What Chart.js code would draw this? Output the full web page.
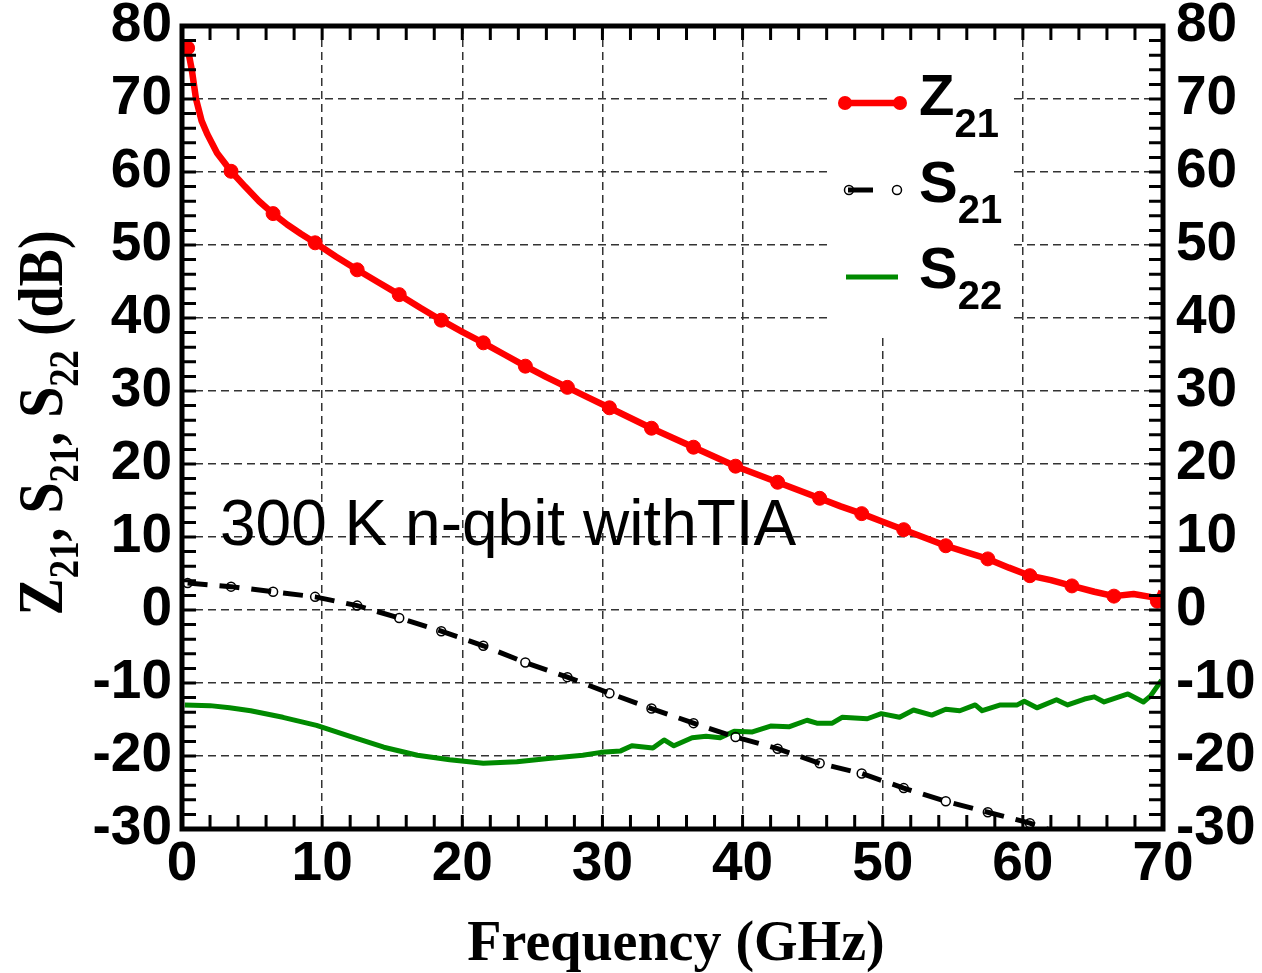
<!DOCTYPE html>
<html>
<head>
<meta charset="utf-8">
<script src="https://cdn.jsdelivr.net/npm/chart.js@4.4.0/dist/chart.umd.min.js"></script>
<style>
  html, body { margin: 0; padding: 0; background: #fff; }
  canvas { display: block; }
</style>
</head>
<body>
<canvas id="chart" width="1262" height="973"></canvas>
<script>
// axis ticks
const freqTicks = [0, 10, 20, 30, 40, 50, 60, 70];
const dbTicks = [-30, -20, -10, 0, 10, 20, 30, 40, 50, 60, 70, 80];

// Z21 (red, filled markers)
const z21Freq = [0.4, 0.7, 1.0, 1.4, 1.8, 2.5, 3.5, 4.5, 5.5, 6.5, 7.5, 8.5, 9.5, 11.0, 12.5, 14.0, 15.5, 17.0, 18.5, 20.0,
  21.5, 23.0, 24.5, 26.0, 27.5, 29.0, 30.5, 32.0, 33.5, 35.0, 36.5, 38.0, 39.5, 41.0, 42.5, 44.0, 45.5, 47.0, 48.5, 50.0,
  51.5, 53.0, 54.5, 56.0, 57.5, 59.0, 60.5, 62.0, 63.5, 65.1, 66.5, 67.9, 69.1, 69.6, 69.9];
const z21Db = [77.0, 74.0, 70.0, 67.0, 65.2, 62.6, 60.1, 58.0, 56.0, 54.3, 52.8, 51.5, 50.3, 48.4, 46.6, 44.9, 43.2, 41.4, 39.7, 38.1,
  36.6, 35.0, 33.4, 31.9, 30.5, 29.1, 27.7, 26.3, 24.9, 23.6, 22.3, 21.0, 19.7, 18.6, 17.5, 16.4, 15.3, 14.2, 13.2, 12.1,
  11.0, 9.9, 8.8, 7.9, 7.0, 5.8, 4.7, 4.1, 3.3, 2.5, 1.9, 2.2, 1.8, 1.2, 2.6];
const z21Marks = [0.4, 3.5, 6.5, 9.5, 12.5, 15.5, 18.5, 21.5, 24.5, 27.5, 30.5, 33.5, 36.5, 39.5, 42.5, 45.5, 48.5,
  51.5, 54.5, 57.5, 60.5, 63.5, 66.5, 69.6];

// S21 (black dashed, open markers)
const s21Freq = [0.4, 3.5, 6.5, 9.5, 12.5, 15.5, 18.5, 21.5, 24.5, 27.5, 30.5, 33.5, 36.5, 39.5, 42.5, 45.5, 48.5,
  51.5, 54.5, 57.5, 60.5, 62.5];
const s21Db = [3.7, 3.2, 2.5, 1.8, 0.6, -1.1, -2.9, -4.9, -7.2, -9.2, -11.4, -13.5, -15.5, -17.4, -19.0, -21.0, -22.4,
  -24.4, -26.2, -27.7, -29.2, -30.5];

// S22 (green)
const s22Freq = [0.2, 2.0, 3.4, 4.9, 7.2, 9.6, 12.0, 14.4, 16.8, 19.1, 21.5, 23.9, 26.3, 28.6, 29.9, 31.3, 32.1, 33.6,
  34.4, 35.1, 36.4, 37.4, 38.4, 39.4, 40.7, 42.0, 43.3, 44.6, 45.3, 46.4, 47.1, 48.9, 49.9, 51.2, 52.2, 53.5, 54.5,
  55.5, 56.6, 57.1, 58.4, 59.6, 60.1, 61.0, 62.4, 63.2, 64.4, 65.1, 65.8, 67.5, 68.6, 69.1, 69.9];
const s22Db = [-13.0, -13.1, -13.4, -13.8, -14.7, -15.8, -17.3, -18.8, -19.9, -20.5, -21.0, -20.8, -20.3, -19.9, -19.5,
  -19.3, -18.6, -18.9, -17.8, -18.6, -17.5, -17.3, -17.5, -16.6, -16.7, -15.9, -16.0, -15.1, -15.5, -15.5, -14.7,
  -14.9, -14.2, -14.7, -13.7, -14.4, -13.6, -13.8, -13.0, -13.8, -13.0, -13.0, -12.5, -13.4, -12.3, -13.0, -12.2,
  -11.9, -12.6, -11.5, -12.6, -11.8, -9.6];

const pts = (xs, ys) => xs.map((x, i) => ({ x, y: ys[i] }));

const RED = '#ff0000';
const BLACK = '#000000';
const GREEN = '#008a00';
const SANS = '"Liberation Sans", Arial, sans-serif';
const SERIF = '"Liberation Serif", "Times New Roman", serif';

// draws text pieces, some as subscripts
function drawSubText(ctx, parts, x, y, mainFont, subFont, subDrop) {
    let cx = x;
    for (const [txt, sub] of parts) {
        ctx.font = sub ? subFont : mainFont;
        ctx.fillText(txt, cx, sub ? y + subDrop : y);
        cx += ctx.measureText(txt).width;
    }
}

function measureSubText(ctx, parts, mainFont, subFont) {
    let w = 0;
    for (const [txt, sub] of parts) {
        ctx.font = sub ? subFont : mainFont;
        w += ctx.measureText(txt).width;
    }
    return w;
}

const framePlugin = {
    id: 'frame',
    beforeDatasetsDraw(chart) {
        // white legend backdrop hides the grid behind it
        const { ctx } = chart;
        ctx.save();
        ctx.fillStyle = '#fff';
        ctx.fillRect(829, 28, 180, 305);
        ctx.restore();
    },
    afterDatasetsDraw(chart) {
        const { ctx, chartArea: a, scales } = chart;
        const x = scales.x, y = scales.y;
        ctx.save();

        // inward ticks on all four sides
        ctx.strokeStyle = '#000';
        ctx.lineWidth = 3;
        ctx.beginPath();
        for (let f = 0; f <= 70; f += 2) {
            const px = x.getPixelForValue(f);
            ctx.moveTo(px, a.bottom); ctx.lineTo(px, a.bottom - 14);
            ctx.moveTo(px, a.top); ctx.lineTo(px, a.top + 14);
        }
        for (let v = -30; v <= 80; v += 2) {
            const py = y.getPixelForValue(v);
            ctx.moveTo(a.left, py); ctx.lineTo(a.left + 14, py);
            ctx.moveTo(a.right, py); ctx.lineTo(a.right - 14, py);
        }
        ctx.stroke();
        ctx.lineWidth = 5;
        ctx.strokeRect(a.left, a.top, a.right - a.left, a.bottom - a.top);

        // legend
        const ds = chart.data.datasets;
        ctx.lineWidth = 6.5;
        ctx.strokeStyle = ds[0].borderColor;
        ctx.beginPath(); ctx.moveTo(845, 103); ctx.lineTo(900, 103); ctx.stroke();
        ctx.fillStyle = ds[0].borderColor;
        for (const cx of [845, 900]) { ctx.beginPath(); ctx.arc(cx, 103, 7, 0, Math.PI * 2); ctx.fill(); }

        ctx.strokeStyle = ds[1].borderColor;
        ctx.lineWidth = 5;
        ctx.beginPath(); ctx.moveTo(848, 190); ctx.lineTo(873, 190); ctx.stroke();
        ctx.lineWidth = 1.5;
        for (const cx of [849, 897]) { ctx.beginPath(); ctx.arc(cx, 190, 4.5, 0, Math.PI * 2); ctx.stroke(); }

        ctx.strokeStyle = ds[2].borderColor;
        ctx.lineWidth = 5;
        ctx.beginPath(); ctx.moveTo(846, 277); ctx.lineTo(898, 277); ctx.stroke();

        ctx.fillStyle = '#000';
        ctx.textBaseline = 'alphabetic';
        ctx.textAlign = 'left';
        const lf = 'bold 58px ' + SANS, ls = 'bold 40px ' + SANS;
        drawSubText(ctx, [['Z', 0], ['21', 1]], 919, 115, lf, ls, 22);
        drawSubText(ctx, [['S', 0], ['21', 1]], 919, 202, lf, ls, 21);
        drawSubText(ctx, [['S', 0], ['22', 1]], 919, 288, lf, ls, 21);

        // annotation
        ctx.font = '64px ' + SANS;
        ctx.fillText('300 K n-qbit withTIA', 220, 545);

        ctx.restore();
    },
    afterDraw(chart) {
        const { ctx } = chart;
        ctx.save();
        ctx.fillStyle = '#000';
        ctx.textBaseline = 'alphabetic';

        // x title
        ctx.font = 'bold 56px ' + SERIF;
        ctx.textAlign = 'center';
        ctx.fillText('Frequency (GHz)', 676, 960);

        // y title, rotated, with subscripts
        ctx.textAlign = 'left';
        const mf = 'bold 64px ' + SERIF, sf = 'bold 42px ' + SERIF;
        const parts = [['Z', 0], ['21', 1], [', ', 0], ['S', 0], ['21', 1], [', ', 0], ['S', 0], ['22', 1], [' (dB)', 0]];
        const w = measureSubText(ctx, parts, mf, sf);
        ctx.translate(62, 423);
        ctx.rotate(-Math.PI / 2);
        ctx.scale(385 / w, 1);
        drawSubText(ctx, parts, -w / 2, 0, mf, sf, 16);
        ctx.restore();
    }
};

const tickFont = { family: SANS, size: 55, weight: 'bold', lineHeight: 1 };

new Chart(document.getElementById('chart'), {
    type: 'line',
    data: {
        datasets: [
            {
                label: 'Z21',
                data: pts(z21Freq, z21Db),
                borderColor: RED,
                borderWidth: 6.5,
                pointRadius: (c) => (z21Marks.includes(z21Freq[c.dataIndex]) ? 7 : 0),
                pointBackgroundColor: RED,
                pointBorderColor: RED,
                pointBorderWidth: 1,
                tension: 0,
                borderJoinStyle: 'round',
            },
            {
                label: 'S21',
                data: pts(s21Freq, s21Db),
                borderColor: BLACK,
                borderWidth: 5,
                borderDash: [20, 12],
                pointRadius: 4.5,
                pointBackgroundColor: 'rgba(255,255,255,0)',
                pointBorderColor: BLACK,
                pointBorderWidth: 1.5,
                tension: 0,
            },
            {
                label: 'S22',
                data: pts(s22Freq, s22Db),
                borderColor: GREEN,
                borderWidth: 5,
                pointRadius: 0,
                tension: 0,
                borderJoinStyle: 'round',
            },
        ],
    },
    options: {
        responsive: false,
        animation: false,
        devicePixelRatio: 1,
        layout: { padding: { top: 26, left: 0, right: 0, bottom: 0 } },
        plugins: { legend: { display: false }, tooltip: { enabled: false } },
        scales: {
            x: {
                type: 'linear',
                min: 0,
                max: 70,
                afterBuildTicks: (s) => { s.ticks = freqTicks.map((v) => ({ value: v })); },
                afterFit: (s) => { s.height = 144; s.paddingLeft = 0; s.paddingRight = 0; },
                ticks: { font: tickFont, color: '#000', padding: 8, maxRotation: 0, autoSkip: false },
                grid: { color: '#333', lineWidth: 1.5, drawTicks: false },
                border: { display: false, dash: [8, 5] },
            },
            y: {
                type: 'linear',
                position: 'left',
                min: -30,
                max: 80,
                afterBuildTicks: (s) => { s.ticks = dbTicks.map((v) => ({ value: v })); },
                afterFit: (s) => { s.width = 182; s.paddingTop = 0; s.paddingBottom = 0; },
                ticks: { font: tickFont, color: '#000', padding: 10, autoSkip: false },
                grid: { color: '#333', lineWidth: 1.5, drawTicks: false },
                border: { display: false, dash: [8, 5] },
            },
            y2: {
                type: 'linear',
                position: 'right',
                min: -30,
                max: 80,
                afterBuildTicks: (s) => { s.ticks = dbTicks.map((v) => ({ value: v })); },
                afterFit: (s) => { s.width = 99; s.paddingTop = 0; s.paddingBottom = 0; },
                ticks: { font: tickFont, color: '#000', padding: 13, autoSkip: false },
                grid: { display: false, drawTicks: false },
                border: { display: false },
            },
        },
    },
    plugins: [framePlugin],
});
</script>
</body>
</html>
